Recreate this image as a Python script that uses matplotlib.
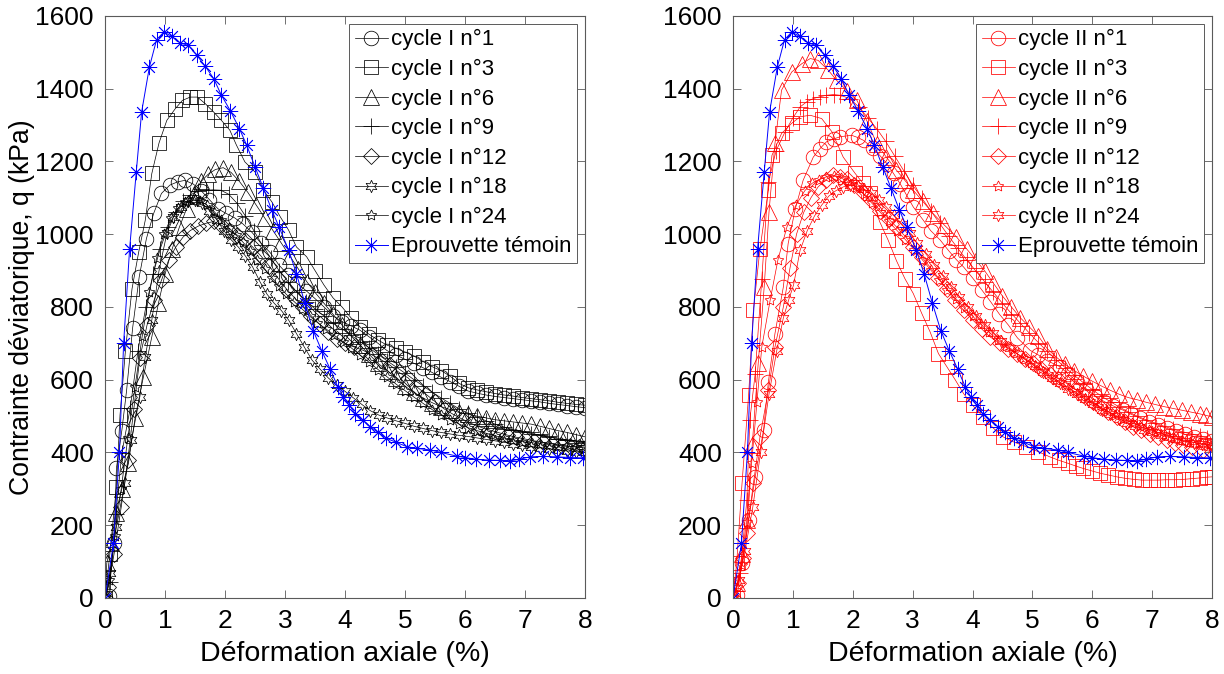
import numpy as np
import matplotlib
matplotlib.use("Agg")
import matplotlib.pyplot as plt

# ---------------- data ----------------
# Eprouvette témoin (same curve on both panels)
ref_x = [0, 0.14, 0.24, 0.31, 0.41, 0.52, 0.61, 0.74, 0.86, 0.98,
         1.11, 1.25, 1.39, 1.53, 1.67, 1.81, 1.94, 2.09, 2.24, 2.36,
         2.5, 2.64, 2.78, 2.9, 3.06, 3.19, 3.33, 3.47, 3.61, 3.75,
         3.88, 3.97, 4.07, 4.17, 4.3, 4.42, 4.55, 4.69, 4.85, 5.03,
         5.2, 5.42, 5.6, 5.86, 6.0, 6.19, 6.4, 6.58, 6.75, 6.9,
         7.08, 7.3, 7.53, 7.75, 7.97]
ref_y = [0, 150, 400, 700, 960, 1170, 1336, 1460, 1535, 1556,
         1544, 1526, 1519, 1492, 1462, 1428, 1382, 1339, 1290, 1245,
         1185, 1126, 1066, 1020, 956, 892, 810, 735, 680, 630,
         580, 553, 530, 507, 488, 471, 455, 439, 428, 416,
         411, 407, 400, 390, 386, 381, 379, 378, 377, 381,
         388, 389, 388, 386, 385]

# cycle I
c1_x = [0, 0.06, 0.15, 0.19, 0.28, 0.36, 0.46, 0.57, 0.69, 0.81,
        0.94, 1.08, 1.21, 1.33, 1.47, 1.6, 1.74, 1.88, 2.02, 2.16,
        2.3, 2.45, 2.6, 2.75, 2.9, 3.05, 3.2, 3.35, 3.5, 3.65,
        3.8, 3.95, 4.1, 4.25, 4.4, 4.55, 4.7, 4.85, 5.0, 5.15,
        5.3, 5.45, 5.6, 5.75, 5.9, 6.05, 6.2, 6.35, 6.5, 6.65,
        6.8, 6.95, 7.1, 7.25, 7.4, 7.55, 7.7, 7.85, 8.0]
c1_y = [0, 5, 150, 357, 460, 571, 742, 883, 988, 1057,
        1112, 1135, 1144, 1148, 1138, 1120, 1095, 1070, 1057, 1045,
        1028, 1005, 975, 950, 915, 888, 865, 845, 823, 800,
        775, 760, 748, 736, 718, 700, 680, 668, 656, 645,
        633, 620, 607, 595, 582, 569, 563, 558, 554, 551,
        548, 545, 542, 539, 535, 532, 529, 526, 523]

c3_x = [0, 0.08, 0.19, 0.25, 0.34, 0.45, 0.56, 0.67, 0.78, 0.9,
        1.03, 1.17, 1.29, 1.42, 1.54, 1.67, 1.81, 1.94, 2.08, 2.19,
        2.33, 2.5, 2.64, 2.78, 2.92, 3.06, 3.19, 3.36, 3.5, 3.65,
        3.8, 3.95, 4.1, 4.25, 4.4, 4.55, 4.7, 4.85, 5.0, 5.15,
        5.3, 5.45, 5.6, 5.75, 5.9, 6.05, 6.2, 6.35, 6.5, 6.65,
        6.8, 6.95, 7.1, 7.25, 7.4, 7.55, 7.7, 7.85, 8.0]
c3_y = [0, 120, 306, 503, 680, 850, 950, 1038, 1167, 1251,
        1313, 1345, 1368, 1377, 1377, 1359, 1336, 1313, 1286, 1245,
        1199, 1171, 1121, 1089, 1048, 1011, 965, 938, 900, 860,
        825, 800, 770, 745, 725, 709, 695, 686, 676, 665,
        650, 636, 625, 610, 590, 578, 572, 567, 562, 558,
        555, 551, 548, 545, 542, 538, 535, 532, 530]

c6_x = [0, 0.03, 0.1, 0.18, 0.28, 0.39, 0.5, 0.64, 0.78, 0.89,
        1.0, 1.12, 1.24, 1.36, 1.48, 1.6, 1.72, 1.84, 1.97, 2.1,
        2.24, 2.38, 2.52, 2.66, 2.8, 2.94, 3.08, 3.22, 3.36, 3.5,
        3.65, 3.8, 3.95, 4.1, 4.25, 4.4, 4.55, 4.7, 4.85, 5.0,
        5.15, 5.3, 5.45, 5.6, 5.75, 5.9, 6.05, 6.2, 6.35, 6.5,
        6.65, 6.8, 6.95, 7.1, 7.25, 7.4, 7.55, 7.7, 7.85, 8.0]
c6_y = [0, 96, 150, 233, 300, 370, 494, 608, 718, 810,
        890, 960, 1020, 1070, 1110, 1145, 1165, 1178, 1183, 1170,
        1145, 1115, 1080, 1045, 1010, 975, 940, 905, 870, 840,
        810, 780, 750, 720, 695, 670, 645, 625, 605, 582,
        565, 550, 537, 526, 518, 510, 505, 500, 495, 490,
        487, 484, 481, 478, 472, 466, 460, 455, 449, 443]

c9_x = [0, 0.08, 0.18, 0.28, 0.42, 0.55, 0.68, 0.8, 0.92, 1.05,
        1.18, 1.3, 1.42, 1.55, 1.68, 1.8, 1.93, 2.06, 2.2, 2.34,
        2.48, 2.62, 2.76, 2.9, 3.05, 3.2, 3.35, 3.5, 3.65, 3.8,
        3.95, 4.1, 4.25, 4.4, 4.55, 4.7, 4.85, 5.0, 5.15, 5.3,
        5.45, 5.6, 5.75, 5.9, 6.05, 6.2, 6.35, 6.5, 6.65, 6.8,
        6.95, 7.1, 7.25, 7.4, 7.55, 7.7, 7.85, 8.0]
c9_y = [0, 45, 230, 398, 522, 680, 800, 890, 960, 1020,
        1060, 1090, 1108, 1118, 1121, 1122, 1121, 1110, 1085, 1050,
        1010, 970, 935, 900, 870, 840, 815, 795, 775, 755,
        740, 722, 705, 688, 670, 652, 635, 618, 600, 583,
        566, 550, 535, 520, 508, 497, 487, 478, 470, 463,
        457, 452, 447, 442, 438, 435, 432, 430]

c12_x = [0, 0.05, 0.15, 0.27, 0.38, 0.48, 0.58, 0.7, 0.82, 0.94,
         1.06, 1.18, 1.3, 1.42, 1.55, 1.68, 1.81, 1.94, 2.07, 2.2,
         2.33, 2.46, 2.6, 2.74, 2.88, 3.02, 3.16, 3.3, 3.44, 3.58,
         3.72, 3.86, 4.0, 4.15, 4.3, 4.45, 4.6, 4.75, 4.9, 5.05,
         5.2, 5.35, 5.5, 5.65, 5.8, 5.95, 6.1, 6.25, 6.4, 6.55,
         6.7, 6.85, 7.0, 7.15, 7.3, 7.45, 7.6, 7.75, 7.9, 8.0]
c12_y = [0, 30, 120, 250, 380, 520, 660, 750, 820, 873,
         929, 965, 992, 1010, 1022, 1030, 1035, 1025, 1010, 998,
         985, 965, 940, 912, 880, 850, 825, 800, 775, 752,
         730, 712, 700, 690, 681, 668, 655, 640, 620, 605,
         580, 560, 540, 520, 505, 492, 480, 470, 462, 455,
         448, 442, 437, 432, 428, 424, 420, 417, 414, 412]

c18_x = [0, 0.08, 0.19, 0.33, 0.44, 0.58, 0.67, 0.78, 0.9, 1.03,
         1.14, 1.26, 1.38, 1.5, 1.62, 1.74, 1.86, 1.98, 2.1, 2.22,
         2.34, 2.46, 2.58, 2.7, 2.82, 2.94, 3.06, 3.19, 3.32, 3.45,
         3.58, 3.72, 3.86, 4.0, 4.14, 4.28, 4.42, 4.56, 4.7, 4.85,
         5.0, 5.15, 5.3, 5.45, 5.6, 5.75, 5.9, 6.05, 6.2, 6.35,
         6.5, 6.65, 6.8, 6.95, 7.1, 7.25, 7.4, 7.55, 7.7, 7.85, 8.0]
c18_y = [0, 70, 196, 315, 434, 553, 663, 764, 900, 1002,
         1047, 1075, 1090, 1093, 1085, 1065, 1040, 1010, 985, 965,
         940, 910, 870, 835, 810, 790, 764, 727, 690, 654,
         630, 605, 585, 568, 550, 532, 515, 503, 495, 487,
         480, 472, 466, 460, 455, 451, 447, 444, 440, 436,
         432, 428, 424, 420, 416, 413, 410, 407, 404, 402, 400]

c24_x = [0, 0.07, 0.16, 0.27, 0.38, 0.5, 0.62, 0.74, 0.86, 0.98,
         1.1, 1.22, 1.34, 1.46, 1.58, 1.7, 1.82, 1.94, 2.06, 2.18,
         2.3, 2.42, 2.54, 2.66, 2.78, 2.9, 3.02, 3.15, 3.28, 3.41,
         3.54, 3.68, 3.82, 3.96, 4.1, 4.25, 4.4, 4.55, 4.7, 4.85,
         5.0, 5.15, 5.3, 5.45, 5.6, 5.75, 5.9, 6.05, 6.2, 6.35,
         6.5, 6.65, 6.8, 6.95, 7.1, 7.25, 7.4, 7.55, 7.7, 7.85, 8.0]
c24_y = [0, 50, 170, 300, 440, 580, 720, 840, 935, 1000,
         1045, 1072, 1088, 1095, 1092, 1080, 1062, 1040, 1018, 998,
         978, 955, 930, 905, 880, 858, 835, 815, 795, 775,
         757, 740, 722, 705, 688, 668, 648, 628, 608, 588,
         570, 552, 535, 518, 503, 490, 478, 468, 460, 453,
         446, 440, 435, 430, 427, 424, 421, 419, 417, 416, 415]

# cycle II
r1_x = [0, 0.07, 0.15, 0.26, 0.37, 0.51, 0.59, 0.7, 0.84, 0.92,
        1.04, 1.17, 1.34, 1.45, 1.56, 1.68, 1.79, 1.98, 2.08, 2.18,
        2.34, 2.46, 2.57, 2.68, 2.79, 2.9, 3.01, 3.18, 3.3, 3.46,
        3.6, 3.73, 3.85, 4.0, 4.15, 4.3, 4.45, 4.6, 4.75, 4.96,
        5.1, 5.25, 5.46, 5.6, 5.75, 5.9, 6.05, 6.2, 6.35, 6.52,
        6.65, 6.8, 6.95, 7.1, 7.25, 7.4, 7.55, 7.7, 7.85, 8.0]
r1_y = [0, 8, 95, 214, 333, 462, 594, 727, 855, 974,
        1070, 1148, 1212, 1235, 1254, 1262, 1268, 1272, 1266, 1258,
        1236, 1215, 1194, 1167, 1139, 1107, 1075, 1038, 1010, 984,
        955, 930, 910, 880, 848, 815, 780, 750, 715, 681,
        668, 652, 636, 615, 595, 575, 555, 540, 528, 516,
        505, 494, 484, 475, 466, 458, 450, 443, 437, 431]

r3_x = [0, 0.06, 0.15, 0.26, 0.34, 0.45, 0.59, 0.65, 0.81, 0.98,
        1.12, 1.29, 1.48, 1.65, 1.84, 2.04, 2.17, 2.29, 2.45, 2.59,
        2.73, 2.87, 3.01, 3.15, 3.29, 3.43, 3.57, 3.71, 3.85, 4.0,
        4.18, 4.34, 4.51, 4.7, 4.9, 5.1, 5.29, 5.45, 5.6, 5.72,
        5.85, 6.0, 6.13, 6.27, 6.41, 6.55, 6.7, 6.83, 6.96, 7.1,
        7.24, 7.38, 7.52, 7.66, 7.8, 7.91, 8.0]
r3_y = [0, 95, 315, 558, 791, 960, 1121, 1217, 1277, 1305,
        1323, 1327, 1318, 1282, 1212, 1167, 1140, 1112, 1034, 984,
        927, 878, 837, 783, 732, 672, 636, 600, 562, 530,
        498, 468, 443, 428, 416, 402, 388, 378, 370, 363,
        356, 349, 343, 338, 333, 329, 326, 324, 324, 324,
        325, 325, 326, 328, 330, 332, 333]

r6_x = [0, 0.07, 0.15, 0.23, 0.32, 0.42, 0.52, 0.6, 0.7, 0.81,
        0.98, 1.15, 1.29, 1.42, 1.59, 1.73, 1.9, 2.07, 2.24, 2.4,
        2.56, 2.73, 2.87, 3.01, 3.17, 3.34, 3.53, 3.73, 3.9, 4.05,
        4.2, 4.35, 4.5, 4.65, 4.8, 4.95, 5.1, 5.25, 5.4, 5.55,
        5.7, 5.85, 6.0, 6.15, 6.3, 6.45, 6.6, 6.75, 6.9, 7.05,
        7.2, 7.35, 7.5, 7.65, 7.8, 7.9, 8.0]
r6_y = [0, 41, 120, 214, 420, 645, 855, 1060, 1250, 1396,
        1446, 1469, 1483, 1478, 1451, 1423, 1395, 1368, 1310, 1249,
        1212, 1176, 1148, 1121, 1090, 1057, 1025, 993, 960, 930,
        900, 865, 830, 800, 770, 745, 720, 685, 662, 642,
        625, 610, 596, 583, 571, 560, 551, 545, 538, 532,
        526, 521, 516, 511, 506, 502, 498]

r9_x = [0, 0.05, 0.12, 0.23, 0.28, 0.37, 0.48, 0.59, 0.72, 0.87,
        1.0, 1.12, 1.23, 1.34, 1.45, 1.56, 1.68, 1.79, 1.95, 2.1,
        2.25, 2.4, 2.55, 2.7, 2.85, 3.0, 3.15, 3.3, 3.45, 3.6,
        3.75, 3.9, 4.05, 4.2, 4.35, 4.5, 4.65, 4.8, 4.95, 5.1,
        5.25, 5.4, 5.55, 5.7, 5.85, 6.0, 6.15, 6.3, 6.45, 6.6,
        6.75, 6.9, 7.05, 7.2, 7.35, 7.5, 7.65, 7.8, 7.92, 8.0]
r9_y = [0, 20, 68, 269, 489, 617, 878, 1144, 1230, 1282,
        1320, 1350, 1364, 1373, 1378, 1382, 1384, 1382, 1373, 1350,
        1320, 1290, 1255, 1215, 1175, 1135, 1100, 1065, 1030, 995,
        962, 930, 900, 870, 840, 810, 782, 755, 728, 702,
        678, 655, 633, 612, 592, 573, 555, 540, 525, 512,
        500, 490, 481, 472, 464, 457, 451, 445, 440, 436]

r12_x = [0, 0.08, 0.16, 0.23, 0.34, 0.45, 0.59, 0.7, 0.84, 0.95,
         1.06, 1.18, 1.3, 1.42, 1.55, 1.67, 1.79, 1.9, 2.02, 2.18,
         2.32, 2.46, 2.6, 2.73, 2.87, 3.01, 3.15, 3.29, 3.43, 3.57,
         3.71, 3.85, 4.0, 4.15, 4.29, 4.46, 4.6, 4.74, 4.88, 5.01,
         5.15, 5.29, 5.43, 5.57, 5.71, 5.85, 5.99, 6.13, 6.27, 6.41,
         6.55, 6.68, 6.82, 6.96, 7.1, 7.24, 7.38, 7.52, 7.66, 7.85, 8.0]
r12_y = [0, 40, 110, 178, 315, 443, 571, 690, 800, 906,
         1000, 1060, 1100, 1130, 1150, 1162, 1158, 1153, 1135, 1112,
         1090, 1065, 1042, 1020, 995, 965, 938, 910, 880, 850,
         820, 791, 765, 740, 718, 700, 685, 672, 658, 645,
         630, 616, 603, 590, 574, 558, 542, 526, 512, 498,
         484, 471, 461, 452, 443, 434, 426, 420, 414, 407, 402]

r18_x = [0, 0.06, 0.15, 0.24, 0.31, 0.4, 0.48, 0.62, 0.75, 0.9,
         1.05, 1.2, 1.32, 1.44, 1.56, 1.68, 1.8, 1.92, 2.05, 2.18,
         2.32, 2.46, 2.6, 2.74, 2.88, 3.02, 3.16, 3.3, 3.44, 3.58,
         3.72, 3.86, 4.0, 4.14, 4.28, 4.42, 4.56, 4.7, 4.84, 4.98,
         5.12, 5.26, 5.4, 5.54, 5.68, 5.82, 5.96, 6.1, 6.24, 6.38,
         6.52, 6.66, 6.8, 6.94, 7.08, 7.22, 7.36, 7.5, 7.64, 7.78, 7.92, 8.0]
r18_y = [0, 30, 90, 210, 370, 540, 690, 819, 930, 1020,
         1080, 1120, 1140, 1150, 1158, 1160, 1155, 1145, 1130, 1110,
         1085, 1060, 1035, 1010, 985, 958, 930, 902, 875, 848,
         822, 798, 775, 752, 730, 710, 692, 676, 660, 645,
         630, 615, 600, 585, 570, 556, 542, 528, 515, 503,
         492, 482, 472, 463, 455, 448, 441, 435, 430, 425, 421, 419]

r24_x = [0, 0.1, 0.2, 0.33, 0.46, 0.6, 0.73, 0.84, 0.93, 1.01,
         1.12, 1.24, 1.36, 1.48, 1.6, 1.72, 1.84, 1.96, 2.08, 2.18,
         2.3, 2.43, 2.56, 2.69, 2.82, 2.95, 3.08, 3.22, 3.36, 3.5,
         3.64, 3.78, 3.92, 4.06, 4.2, 4.34, 4.48, 4.62, 4.76, 4.9,
         5.04, 5.18, 5.32, 5.46, 5.6, 5.74, 5.88, 6.02, 6.16, 6.3,
         6.44, 6.58, 6.72, 6.86, 7.0, 7.14, 7.28, 7.42, 7.56, 7.7, 7.84, 8.0]
r24_y = [0, 50, 130, 250, 400, 560, 680, 770, 820, 860,
         956, 1010, 1050, 1080, 1105, 1120, 1130, 1135, 1132, 1125,
         1112, 1095, 1075, 1052, 1028, 1002, 975, 946, 916, 886,
         856, 828, 800, 774, 750, 728, 707, 688, 670, 653,
         637, 621, 605, 590, 575, 560, 546, 532, 518, 505,
         493, 482, 472, 463, 455, 448, 442, 436, 431, 427, 423, 420]

labels_I = ["cycle I n°1", "cycle I n°3", "cycle I n°6", "cycle I n°9",
            "cycle I n°12", "cycle I n°18", "cycle I n°24"]
labels_II = ["cycle II n°1", "cycle II n°3", "cycle II n°6", "cycle II n°9",
             "cycle II n°12", "cycle II n°18", "cycle II n°24"]
ref_label = "Eprouvette témoin"

STAR5 = (5, 1, 0)
HEXA = (6, 1, 0)
ASTER = (8, 2, 0)

AXCOL = "#5a5a5a"


def plot_panel(ax, series, labels, markers, sizes, color):
    for (x, y), lab, m, s in zip(series, labels, markers, sizes):
        ax.plot(x, y, color=color, lw=0.5, marker=m, ms=s, mfc="none",
                mec=color, mew=0.55, label=lab)
    ax.plot(ref_x, ref_y, color="#0000ff", lw=0.7, marker=ASTER, ms=11,
            mec="#0000ff", mew=0.6, label=ref_label)

    ax.set_xlim(0, 8)
    ax.set_ylim(0, 1600)
    ax.set_xticks(range(0, 9))
    ax.set_yticks(range(0, 1601, 200))
    ax.tick_params(direction="in", top=True, right=True, length=6,
                   width=0.6, color=AXCOL, labelsize=19, pad=8)
    for sp in ax.spines.values():
        sp.set_color(AXCOL)
        sp.set_linewidth(0.8)
    ax.set_xlabel("Déformation axiale (%)", fontsize=20.5, labelpad=6)

    leg = ax.legend(loc="upper right", fontsize=16, numpoints=1,
                    handlelength=1.5, handletextpad=0.15, borderpad=0.25,
                    labelspacing=0.38, borderaxespad=0.35, fancybox=False,
                    framealpha=1, edgecolor=AXCOL)
    leg.get_frame().set_linewidth(0.7)


def main():
    plt.rcParams["font.family"] = ["Liberation Sans", "DejaVu Sans"]
    fig = plt.figure(figsize=(12.24, 6.74), dpi=100)
    ax1 = fig.add_axes([0.0858, 0.1128, 0.3922, 0.8635])
    ax2 = fig.add_axes([0.5989, 0.1128, 0.3913, 0.8635])

    markers = ["o", "s", "^", "+", "D", HEXA, STAR5]
    sizes = [10.5, 9.5, 11, 12, 8, 9, 8]
    series_I = [(c1_x, c1_y), (c3_x, c3_y), (c6_x, c6_y), (c9_x, c9_y),
                (c12_x, c12_y), (c18_x, c18_y), (c24_x, c24_y)]
    plot_panel(ax1, series_I, labels_I, markers, sizes, "black")

    markers2 = ["o", "s", "^", "+", "D", STAR5, HEXA]
    sizes2 = [10.5, 9.5, 11, 12, 8, 8, 9]
    series_II = [(r1_x, r1_y), (r3_x, r3_y), (r6_x, r6_y), (r9_x, r9_y),
                 (r12_x, r12_y), (r18_x, r18_y), (r24_x, r24_y)]
    plot_panel(ax2, series_II, labels_II, markers2, sizes2, "#ff0000")

    ax1.set_ylabel("Contrainte déviatorique, q (kPa)", fontsize=19.2,
                   labelpad=0)

    fig.savefig("out.png", dpi=100)


if __name__ == "__main__":
    main()
